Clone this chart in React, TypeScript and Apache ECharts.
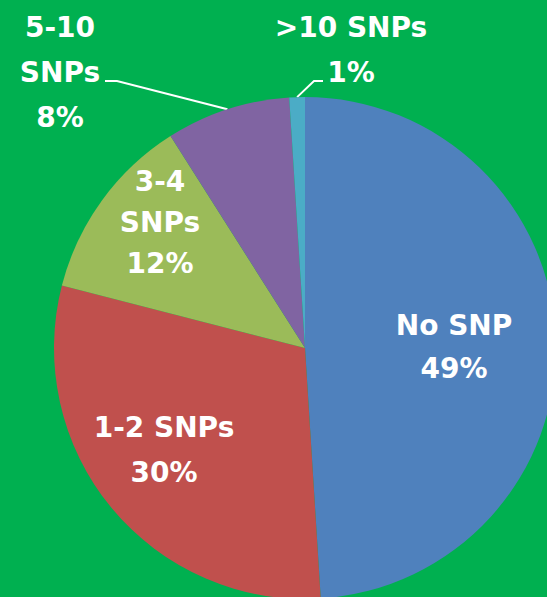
import React, { useEffect, useRef } from "react";
import * as echarts from "echarts";

const categories = ["No SNP", "1-2 SNPs", "3-4 SNPs", "5-10 SNPs", ">10 SNPs"];
const labelTexts = ["No SNP", "1-2 SNPs", "3-4\nSNPs", "5-10\nSNPs", ">10 SNPs"];
const values = [49, 30, 12, 8, 1];
const colors = ["#4F81BD", "#C0504D", "#9BBB59", "#8064A2", "#4BACC6"];

// label placement (layout only)
const labelPlace: { x: number; y: number; lh: number; outside?: boolean; line?: number[][] }[] = [
  { x: 454, y: 347, lh: 43 },
  { x: 164, y: 450, lh: 45 },
  { x: 160, y: 222, lh: 41 },
  { x: 60, y: 72, lh: 45, outside: true, line: [[117, 81], [105, 81]] },
  { x: 351, y: 50, lh: 45, outside: true, line: [[314, 81], [323, 81]] },
];

export default function App() {
  const ref = useRef<HTMLDivElement>(null);
  useEffect(() => {
    if (!ref.current) return;
    const chart = echarts.init(ref.current, undefined, { renderer: "svg" });
    chart.setOption({
      animation: false,
      backgroundColor: "#00B050",
      series: [
        {
          type: "pie",
          center: [305, 348],
          radius: 251,
          startAngle: 90,
          clockwise: true,
          avoidLabelOverlap: false,
          label: {
            color: "#FFFFFF",
            fontWeight: "bold",
            fontSize: 28,
            fontFamily: "DejaVu Sans",
            align: "center",
            formatter: (p: any) => labelTexts[p.dataIndex] + "\n" + Math.round(p.percent) + "%",
          },
          labelLine: {
            lineStyle: { color: "#FFFFFF", width: 2 },
            length: 20,
            length2: 10,
          },
          labelLayout: (params: any) => {
            const L = labelPlace[params.dataIndex];
            const r: any = { x: L.x, y: L.y, align: "center", verticalAlign: "middle" };
            if (L.line && params.labelLinePoints) {
              r.labelLinePoints = [params.labelLinePoints[0], L.line[0], L.line[1]];
            }
            return r;
          },
          data: categories.map((name, i) => ({
            name,
            value: values[i],
            itemStyle: { color: colors[i] },
            label: {
              position: labelPlace[i].outside ? "outside" : "inside",
              lineHeight: labelPlace[i].lh,
            },
            labelLine: { show: !!labelPlace[i].outside },
          })),
        },
      ],
    });
    return () => chart.dispose();
  }, []);
  return (
    <div
      ref={ref}
      style={{ position: "fixed", left: 0, top: 0, width: 547, height: 597 }}
    />
  );
}
